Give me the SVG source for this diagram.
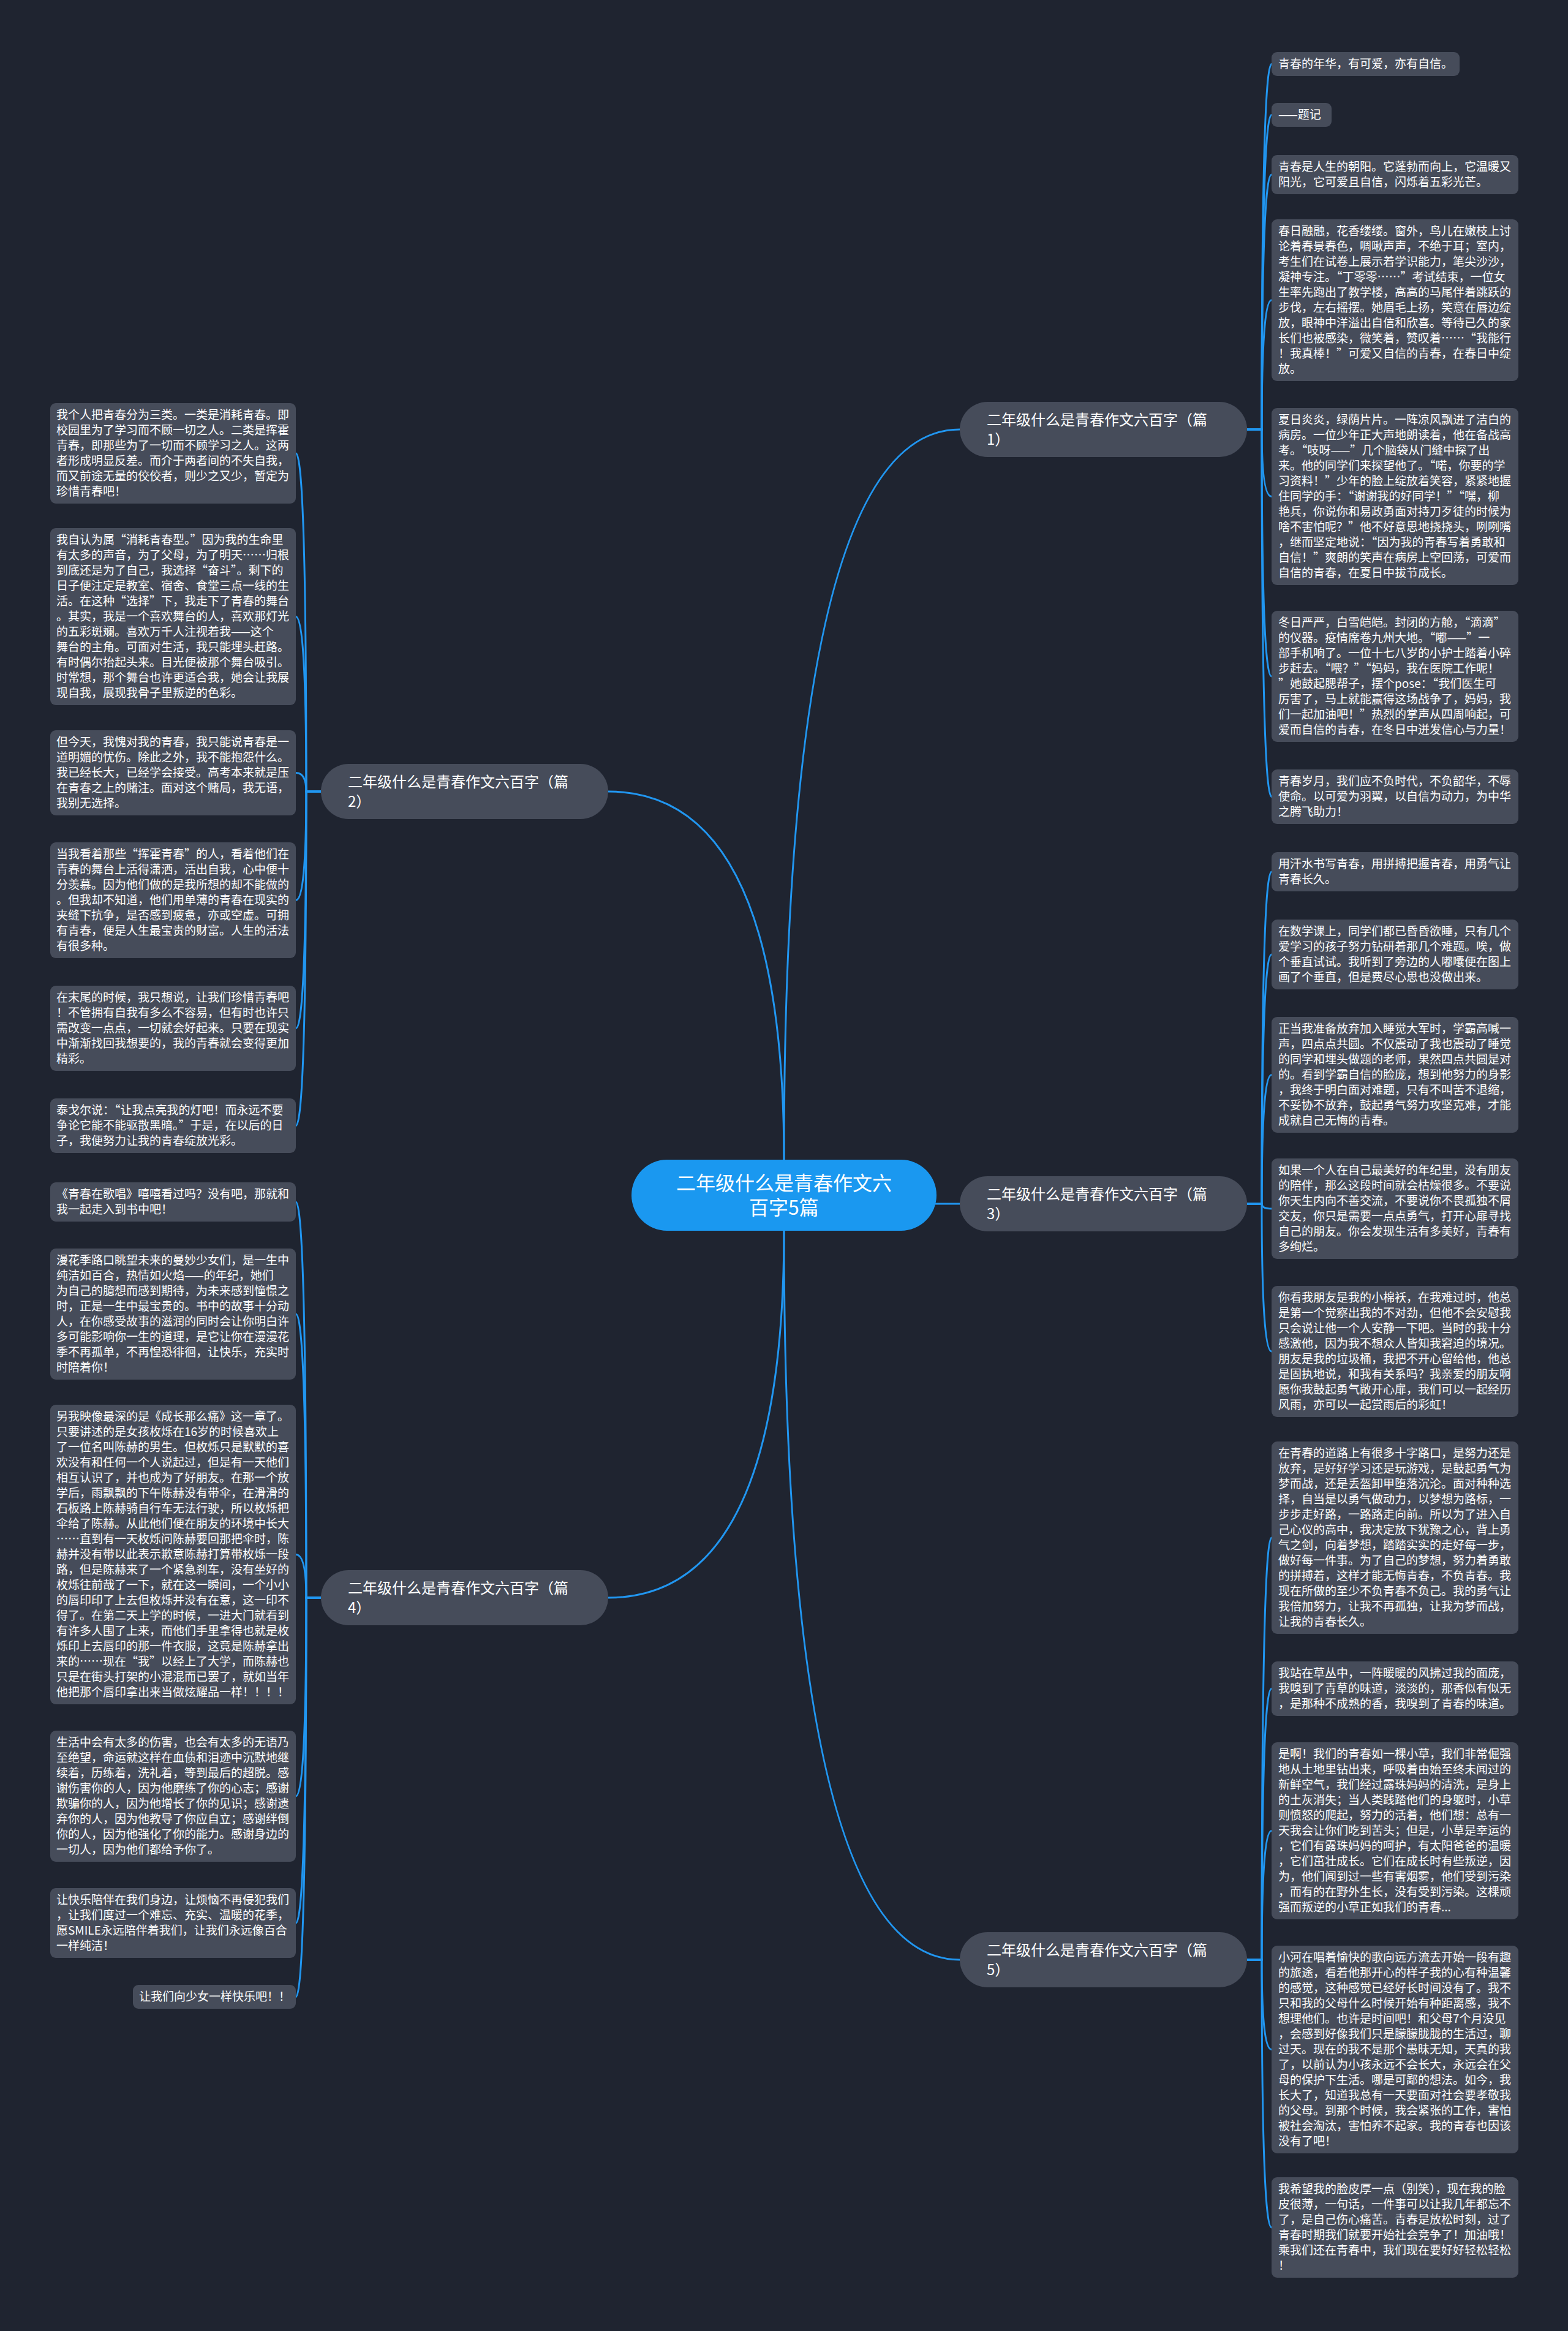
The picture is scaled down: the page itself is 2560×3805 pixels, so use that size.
<svg xmlns="http://www.w3.org/2000/svg" width="2560" height="3805" viewBox="0 0 2560 3805">
<style>
.lf{fill:#464c5a}
.br{fill:#464c5a}
.ce{fill:#1a98f0}
.lt{font-family:"Noto Sans CJK SC","Noto Sans",sans-serif;font-size:19px;fill:#ffffff}
.bt{font-family:"Noto Sans CJK SC","Noto Sans",sans-serif;font-size:24px;fill:#ffffff}
.ct{font-family:"Noto Sans CJK SC","Noto Sans",sans-serif;font-size:32px;fill:#ffffff;text-anchor:middle}
.cn{fill:none;stroke:#2196f0;stroke-width:3}
</style>
<rect width="2560" height="3805" fill="#1f2430"/>
<g id="connectors" class="cn">
<path d="M1280 1893 Q1280 701 1567 701"/>
<path d="M1280 1893 Q1280 1292 993 1292"/>
<path d="M1527 1965 L1567 1965"/>
<path d="M1280 2009 Q1280 2608 993 2608"/>
<path d="M1280 2009 Q1280 3199 1567 3199"/>
<path d="M2036 701 L2060 701 Q2060 104.5 2076 104.5"/>
<path d="M2036 701 L2060 701 Q2060 187.5 2076 187.5"/>
<path d="M2036 701 L2060 701 Q2060 285 2076 285"/>
<path d="M2036 701 L2060 701 Q2060 490 2076 490"/>
<path d="M2036 701 L2060 701 Q2060 810.5 2076 810.5"/>
<path d="M2036 701 L2060 701 Q2060 1104 2076 1104"/>
<path d="M2036 701 L2060 701 Q2060 1300.5 2076 1300.5"/>
<path d="M2036 1965 L2060 1965 Q2060 1423 2076 1423"/>
<path d="M2036 1965 L2060 1965 Q2060 1558 2076 1558"/>
<path d="M2036 1965 L2060 1965 Q2060 1754.5 2076 1754.5"/>
<path d="M2036 1965 L2060 1965 Q2060 1973 2076 1973"/>
<path d="M2036 1965 L2060 1965 Q2060 2206 2076 2206"/>
<path d="M2036 3199 L2060 3199 Q2060 2510 2076 2510"/>
<path d="M2036 3199 L2060 3199 Q2060 2756.5 2076 2756.5"/>
<path d="M2036 3199 L2060 3199 Q2060 2988.5 2076 2988.5"/>
<path d="M2036 3199 L2060 3199 Q2060 3345.5 2076 3345.5"/>
<path d="M2036 3199 L2060 3199 Q2060 3636 2076 3636"/>
<path d="M524 1292 L500 1292 Q500 740 483 740"/>
<path d="M524 1292 L500 1292 Q500 1006.5 483 1006.5"/>
<path d="M524 1292 L500 1292 Q500 1261.5 483 1261.5"/>
<path d="M524 1292 L500 1292 Q500 1469.5 483 1469.5"/>
<path d="M524 1292 L500 1292 Q500 1678.5 483 1678.5"/>
<path d="M524 1292 L500 1292 Q500 1837.5 483 1837.5"/>
<path d="M524 2608 L500 2608 Q500 1962 483 1962"/>
<path d="M524 2608 L500 2608 Q500 2145 483 2145"/>
<path d="M524 2608 L500 2608 Q500 2537.5 483 2537.5"/>
<path d="M524 2608 L500 2608 Q500 2932 483 2932"/>
<path d="M524 2608 L500 2608 Q500 3139 483 3139"/>
<path d="M524 2608 L500 2608 Q500 3259.5 483 3259.5"/>
</g>
<g id="center">
<rect class="ce" x="1031" y="1893" width="498" height="116" rx="58"/>
<text class="ct" x="1280" y="1943">二年级什么是青春作文六</text>
<text class="ct" x="1280" y="1983">百字5篇</text>
</g>
<g id="b1">
<rect class="br" x="1567" y="656" width="469" height="90" rx="45"/>
<text class="bt" x="1611" y="694">二年级什么是青春作文六百字（篇</text>
<text class="bt" x="1611" y="726">1）</text>
</g>
<g id="b2">
<rect class="br" x="524" y="1247" width="469" height="90" rx="45"/>
<text class="bt" x="568" y="1285">二年级什么是青春作文六百字（篇</text>
<text class="bt" x="568" y="1317">2）</text>
</g>
<g id="b3">
<rect class="br" x="1567" y="1920" width="469" height="90" rx="45"/>
<text class="bt" x="1611" y="1958">二年级什么是青春作文六百字（篇</text>
<text class="bt" x="1611" y="1990">3）</text>
</g>
<g id="b4">
<rect class="br" x="524" y="2563" width="469" height="90" rx="45"/>
<text class="bt" x="568" y="2601">二年级什么是青春作文六百字（篇</text>
<text class="bt" x="568" y="2633">4）</text>
</g>
<g id="b5">
<rect class="br" x="1567" y="3154" width="469" height="90" rx="45"/>
<text class="bt" x="1611" y="3192">二年级什么是青春作文六百字（篇</text>
<text class="bt" x="1611" y="3224">5）</text>
</g>
<g id="r1"><rect class="lf" x="2076" y="85" width="307" height="39" rx="9"/>
<text class="lt" x="2087" y="111">青春的年华，有可爱，亦有自信。</text></g>
<g id="r2"><rect class="lf" x="2076" y="168" width="98" height="39" rx="9"/>
<text class="lt" x="2087" y="194">——题记</text></g>
<g id="r3"><rect class="lf" x="2076" y="253" width="403" height="64" rx="9"/>
<text class="lt" x="2087" y="279">青春是人生的朝阳。它蓬勃而向上，它温暖又</text>
<text class="lt" x="2087" y="304">阳光，它可爱且自信，闪烁着五彩光芒。</text></g>
<g id="r4"><rect class="lf" x="2076" y="358" width="403" height="264" rx="9"/>
<text class="lt" x="2087" y="384">春日融融，花香缕缕。窗外，鸟儿在嫩枝上讨</text>
<text class="lt" x="2087" y="409">论着春景春色，啁啾声声，不绝于耳；室内，</text>
<text class="lt" x="2087" y="434">考生们在试卷上展示着学识能力，笔尖沙沙，</text>
<text class="lt" x="2087" y="459">凝神专注。“丁零零……”考试结束，一位女</text>
<text class="lt" x="2087" y="484">生率先跑出了教学楼，高高的马尾伴着跳跃的</text>
<text class="lt" x="2087" y="509">步伐，左右摇摆。她眉毛上扬，笑意在唇边绽</text>
<text class="lt" x="2087" y="534">放，眼神中洋溢出自信和欣喜。等待已久的家</text>
<text class="lt" x="2087" y="559">长们也被感染，微笑着，赞叹着……“我能行</text>
<text class="lt" x="2087" y="584">！我真棒！”可爱又自信的青春，在春日中绽</text>
<text class="lt" x="2087" y="609">放。</text></g>
<g id="r5"><rect class="lf" x="2076" y="666" width="403" height="289" rx="9"/>
<text class="lt" x="2087" y="692">夏日炎炎，绿荫片片。一阵凉风飘进了洁白的</text>
<text class="lt" x="2087" y="717">病房。一位少年正大声地朗读着，他在备战高</text>
<text class="lt" x="2087" y="742">考。“吱呀——”几个脑袋从门缝中探了出</text>
<text class="lt" x="2087" y="767">来。他的同学们来探望他了。“喏，你要的学</text>
<text class="lt" x="2087" y="792">习资料！”少年的脸上绽放着笑容，紧紧地握</text>
<text class="lt" x="2087" y="817">住同学的手：“谢谢我的好同学！”“嘿，柳</text>
<text class="lt" x="2087" y="842">艳兵，你说你和易政勇面对持刀歹徒的时候为</text>
<text class="lt" x="2087" y="867">啥不害怕呢？”他不好意思地挠挠头，咧咧嘴</text>
<text class="lt" x="2087" y="892">，继而坚定地说：“因为我的青春写着勇敢和</text>
<text class="lt" x="2087" y="917">自信！”爽朗的笑声在病房上空回荡，可爱而</text>
<text class="lt" x="2087" y="942">自信的青春，在夏日中拔节成长。</text></g>
<g id="r6"><rect class="lf" x="2076" y="997" width="403" height="214" rx="9"/>
<text class="lt" x="2087" y="1023">冬日严严，白雪皑皑。封闭的方舱，“滴滴”</text>
<text class="lt" x="2087" y="1048">的仪器。疫情席卷九州大地。“嘟——”一</text>
<text class="lt" x="2087" y="1073">部手机响了。一位十七八岁的小护士踏着小碎</text>
<text class="lt" x="2087" y="1098">步赶去。“喂？”“妈妈，我在医院工作呢！</text>
<text class="lt" x="2087" y="1123">”她鼓起腮帮子，摆个pose：“我们医生可</text>
<text class="lt" x="2087" y="1148">厉害了，马上就能赢得这场战争了，妈妈，我</text>
<text class="lt" x="2087" y="1173">们一起加油吧！”热烈的掌声从四周响起，可</text>
<text class="lt" x="2087" y="1198">爱而自信的青春，在冬日中迸发信心与力量！</text></g>
<g id="r7"><rect class="lf" x="2076" y="1256" width="403" height="89" rx="9"/>
<text class="lt" x="2087" y="1282">青春岁月，我们应不负时代，不负韶华，不辱</text>
<text class="lt" x="2087" y="1307">使命。以可爱为羽翼，以自信为动力，为中华</text>
<text class="lt" x="2087" y="1332">之腾飞助力！</text></g>
<g id="r8"><rect class="lf" x="2076" y="1391" width="403" height="64" rx="9"/>
<text class="lt" x="2087" y="1417">用汗水书写青春，用拼搏把握青春，用勇气让</text>
<text class="lt" x="2087" y="1442">青春长久。</text></g>
<g id="r9"><rect class="lf" x="2076" y="1501" width="403" height="114" rx="9"/>
<text class="lt" x="2087" y="1527">在数学课上，同学们都已昏昏欲睡，只有几个</text>
<text class="lt" x="2087" y="1552">爱学习的孩子努力钻研着那几个难题。唉，做</text>
<text class="lt" x="2087" y="1577">个垂直试试。我听到了旁边的人嘟囔便在图上</text>
<text class="lt" x="2087" y="1602">画了个垂直，但是费尽心思也没做出来。</text></g>
<g id="r10"><rect class="lf" x="2076" y="1660" width="403" height="189" rx="9"/>
<text class="lt" x="2087" y="1686">正当我准备放弃加入睡觉大军时，学霸高喊一</text>
<text class="lt" x="2087" y="1711">声，四点点共圆。不仅震动了我也震动了睡觉</text>
<text class="lt" x="2087" y="1736">的同学和埋头做题的老师，果然四点共圆是对</text>
<text class="lt" x="2087" y="1761">的。看到学霸自信的脸庞，想到他努力的身影</text>
<text class="lt" x="2087" y="1786">，我终于明白面对难题，只有不叫苦不退缩，</text>
<text class="lt" x="2087" y="1811">不妥协不放弃，鼓起勇气努力攻坚克难，才能</text>
<text class="lt" x="2087" y="1836">成就自己无悔的青春。</text></g>
<g id="r11"><rect class="lf" x="2076" y="1891" width="403" height="164" rx="9"/>
<text class="lt" x="2087" y="1917">如果一个人在自己最美好的年纪里，没有朋友</text>
<text class="lt" x="2087" y="1942">的陪伴，那么这段时间就会枯燥很多。不要说</text>
<text class="lt" x="2087" y="1967">你天生内向不善交流，不要说你不畏孤独不屑</text>
<text class="lt" x="2087" y="1992">交友，你只是需要一点点勇气，打开心扉寻找</text>
<text class="lt" x="2087" y="2017">自己的朋友。你会发现生活有多美好，青春有</text>
<text class="lt" x="2087" y="2042">多绚烂。</text></g>
<g id="r12"><rect class="lf" x="2076" y="2099" width="403" height="214" rx="9"/>
<text class="lt" x="2087" y="2125">你看我朋友是我的小棉袄，在我难过时，他总</text>
<text class="lt" x="2087" y="2150">是第一个觉察出我的不对劲，但他不会安慰我</text>
<text class="lt" x="2087" y="2175">只会说让他一个人安静一下吧。当时的我十分</text>
<text class="lt" x="2087" y="2200">感激他，因为我不想众人皆知我窘迫的境况。</text>
<text class="lt" x="2087" y="2225">朋友是我的垃圾桶，我把不开心留给他，他总</text>
<text class="lt" x="2087" y="2250">是固执地说，和我有关系吗？我亲爱的朋友啊</text>
<text class="lt" x="2087" y="2275">愿你我鼓起勇气敞开心扉，我们可以一起经历</text>
<text class="lt" x="2087" y="2300">风雨，亦可以一起赏雨后的彩虹！</text></g>
<g id="r13"><rect class="lf" x="2076" y="2353" width="403" height="314" rx="9"/>
<text class="lt" x="2087" y="2379">在青春的道路上有很多十字路口，是努力还是</text>
<text class="lt" x="2087" y="2404">放弃，是好好学习还是玩游戏，是鼓起勇气为</text>
<text class="lt" x="2087" y="2429">梦而战，还是丢盔卸甲堕落沉沦。面对种种选</text>
<text class="lt" x="2087" y="2454">择，自当是以勇气做动力，以梦想为路标，一</text>
<text class="lt" x="2087" y="2479">步步走好路，一路路走向前。所以为了进入自</text>
<text class="lt" x="2087" y="2504">己心仪的高中，我决定放下犹豫之心，背上勇</text>
<text class="lt" x="2087" y="2529">气之剑，向着梦想，踏踏实实的走好每一步，</text>
<text class="lt" x="2087" y="2554">做好每一件事。为了自己的梦想，努力着勇敢</text>
<text class="lt" x="2087" y="2579">的拼搏着，这样才能无悔青春，不负青春。我</text>
<text class="lt" x="2087" y="2604">现在所做的至少不负青春不负己。我的勇气让</text>
<text class="lt" x="2087" y="2629">我倍加努力，让我不再孤独，让我为梦而战，</text>
<text class="lt" x="2087" y="2654">让我的青春长久。</text></g>
<g id="r14"><rect class="lf" x="2076" y="2712" width="403" height="89" rx="9"/>
<text class="lt" x="2087" y="2738">我站在草丛中，一阵暖暖的风拂过我的面庞，</text>
<text class="lt" x="2087" y="2763">我嗅到了青草的味道，淡淡的，那香似有似无</text>
<text class="lt" x="2087" y="2788">，是那种不成熟的香，我嗅到了青春的味道。</text></g>
<g id="r15"><rect class="lf" x="2076" y="2844" width="403" height="289" rx="9"/>
<text class="lt" x="2087" y="2870">是啊！我们的青春如一棵小草，我们非常倔强</text>
<text class="lt" x="2087" y="2895">地从土地里钻出来，呼吸着由始至终未闻过的</text>
<text class="lt" x="2087" y="2920">新鲜空气，我们经过露珠妈妈的清洗，是身上</text>
<text class="lt" x="2087" y="2945">的土灰消失；当人类践踏他们的身躯时，小草</text>
<text class="lt" x="2087" y="2970">则愤怒的爬起，努力的活着，他们想：总有一</text>
<text class="lt" x="2087" y="2995">天我会让你们吃到苦头；但是，小草是幸运的</text>
<text class="lt" x="2087" y="3020">，它们有露珠妈妈的呵护，有太阳爸爸的温暖</text>
<text class="lt" x="2087" y="3045">，它们茁壮成长。它们在成长时有些叛逆，因</text>
<text class="lt" x="2087" y="3070">为，他们闻到过一些有害烟雾，他们受到污染</text>
<text class="lt" x="2087" y="3095">，而有的在野外生长，没有受到污染。这棵顽</text>
<text class="lt" x="2087" y="3120">强而叛逆的小草正如我们的青春...</text></g>
<g id="r16"><rect class="lf" x="2076" y="3176" width="403" height="339" rx="9"/>
<text class="lt" x="2087" y="3202">小河在唱着愉快的歌向远方流去开始一段有趣</text>
<text class="lt" x="2087" y="3227">的旅途，看着他那开心的样子我的心有种温馨</text>
<text class="lt" x="2087" y="3252">的感觉，这种感觉已经好长时间没有了。我不</text>
<text class="lt" x="2087" y="3277">只和我的父母什么时候开始有种距离感，我不</text>
<text class="lt" x="2087" y="3302">想理他们。也许是时间吧！和父母7个月没见</text>
<text class="lt" x="2087" y="3327">，会感到好像我们只是朦朦胧胧的生活过，聊</text>
<text class="lt" x="2087" y="3352">过天。现在的我不是那个愚昧无知，天真的我</text>
<text class="lt" x="2087" y="3377">了，以前认为小孩永远不会长大，永远会在父</text>
<text class="lt" x="2087" y="3402">母的保护下生活。哪是可鄙的想法。如今，我</text>
<text class="lt" x="2087" y="3427">长大了，知道我总有一天要面对社会要孝敬我</text>
<text class="lt" x="2087" y="3452">的父母。到那个时候，我会紧张的工作，害怕</text>
<text class="lt" x="2087" y="3477">被社会淘汰，害怕养不起家。我的青春也因该</text>
<text class="lt" x="2087" y="3502">没有了吧！</text></g>
<g id="r17"><rect class="lf" x="2076" y="3554" width="403" height="164" rx="9"/>
<text class="lt" x="2087" y="3580">我希望我的脸皮厚一点（别笑），现在我的脸</text>
<text class="lt" x="2087" y="3605">皮很薄，一句话，一件事可以让我几年都忘不</text>
<text class="lt" x="2087" y="3630">了，是自己伤心痛苦。青春是放松时刻，过了</text>
<text class="lt" x="2087" y="3655">青春时期我们就要开始社会竞争了！加油哦！</text>
<text class="lt" x="2087" y="3680">乘我们还在青春中，我们现在要好好轻松轻松</text>
<text class="lt" x="2087" y="3705">！</text></g>
<g id="l1"><rect class="lf" x="82" y="658" width="401" height="164" rx="9"/>
<text class="lt" x="92" y="684">我个人把青春分为三类。一类是消耗青春。即</text>
<text class="lt" x="92" y="709">校园里为了学习而不顾一切之人。二类是挥霍</text>
<text class="lt" x="92" y="734">青春，即那些为了一切而不顾学习之人。这两</text>
<text class="lt" x="92" y="759">者形成明显反差。而介于两者间的不失自我，</text>
<text class="lt" x="92" y="784">而又前途无量的佼佼者，则少之又少，暂定为</text>
<text class="lt" x="92" y="809">珍惜青春吧！</text></g>
<g id="l2"><rect class="lf" x="82" y="862" width="401" height="289" rx="9"/>
<text class="lt" x="92" y="888">我自认为属“消耗青春型。”因为我的生命里</text>
<text class="lt" x="92" y="913">有太多的声音，为了父母，为了明天……归根</text>
<text class="lt" x="92" y="938">到底还是为了自己，我选择“奋斗”。剩下的</text>
<text class="lt" x="92" y="963">日子便注定是教室、宿舍、食堂三点一线的生</text>
<text class="lt" x="92" y="988">活。在这种“选择”下，我走下了青春的舞台</text>
<text class="lt" x="92" y="1013">。其实，我是一个喜欢舞台的人，喜欢那灯光</text>
<text class="lt" x="92" y="1038">的五彩斑斓。喜欢万千人注视着我——这个</text>
<text class="lt" x="92" y="1063">舞台的主角。可面对生活，我只能埋头赶路。</text>
<text class="lt" x="92" y="1088">有时偶尔抬起头来。目光便被那个舞台吸引。</text>
<text class="lt" x="92" y="1113">时常想，那个舞台也许更适合我，她会让我展</text>
<text class="lt" x="92" y="1138">现自我，展现我骨子里叛逆的色彩。</text></g>
<g id="l3"><rect class="lf" x="82" y="1192" width="401" height="139" rx="9"/>
<text class="lt" x="92" y="1218">但今天，我愧对我的青春，我只能说青春是一</text>
<text class="lt" x="92" y="1243">道明媚的忧伤。除此之外，我不能抱怨什么。</text>
<text class="lt" x="92" y="1268">我已经长大，已经学会接受。高考本来就是压</text>
<text class="lt" x="92" y="1293">在青春之上的赌注。面对这个赌局，我无语，</text>
<text class="lt" x="92" y="1318">我别无选择。</text></g>
<g id="l4"><rect class="lf" x="82" y="1375" width="401" height="189" rx="9"/>
<text class="lt" x="92" y="1401">当我看着那些“挥霍青春”的人，看着他们在</text>
<text class="lt" x="92" y="1426">青春的舞台上活得潇洒，活出自我，心中便十</text>
<text class="lt" x="92" y="1451">分羡慕。因为他们做的是我所想的却不能做的</text>
<text class="lt" x="92" y="1476">。但我却不知道，他们用单薄的青春在现实的</text>
<text class="lt" x="92" y="1501">夹缝下抗争，是否感到疲惫，亦或空虚。可拥</text>
<text class="lt" x="92" y="1526">有青春，便是人生最宝贵的财富。人生的活法</text>
<text class="lt" x="92" y="1551">有很多种。</text></g>
<g id="l5"><rect class="lf" x="82" y="1609" width="401" height="139" rx="9"/>
<text class="lt" x="92" y="1635">在末尾的时候，我只想说，让我们珍惜青春吧</text>
<text class="lt" x="92" y="1660">！不管拥有自我有多么不容易，但有时也许只</text>
<text class="lt" x="92" y="1685">需改变一点点，一切就会好起来。只要在现实</text>
<text class="lt" x="92" y="1710">中渐渐找回我想要的，我的青春就会变得更加</text>
<text class="lt" x="92" y="1735">精彩。</text></g>
<g id="l6"><rect class="lf" x="82" y="1793" width="401" height="89" rx="9"/>
<text class="lt" x="92" y="1819">泰戈尔说：“让我点亮我的灯吧！而永远不要</text>
<text class="lt" x="92" y="1844">争论它能不能驱散黑暗。”于是，在以后的日</text>
<text class="lt" x="92" y="1869">子，我便努力让我的青春绽放光彩。</text></g>
<g id="l7"><rect class="lf" x="82" y="1930" width="401" height="64" rx="9"/>
<text class="lt" x="92" y="1956">《青春在歌唱》嘻嘻看过吗？没有吧，那就和</text>
<text class="lt" x="92" y="1981">我一起走入到书中吧！</text></g>
<g id="l8"><rect class="lf" x="82" y="2038" width="401" height="214" rx="9"/>
<text class="lt" x="92" y="2064">漫花季路口眺望未来的曼妙少女们，是一生中</text>
<text class="lt" x="92" y="2089">纯洁如百合，热情如火焰——的年纪，她们</text>
<text class="lt" x="92" y="2114">为自己的臆想而感到期待，为未来感到憧憬之</text>
<text class="lt" x="92" y="2139">时，正是一生中最宝贵的。书中的故事十分动</text>
<text class="lt" x="92" y="2164">人，在你感受故事的滋润的同时会让你明白许</text>
<text class="lt" x="92" y="2189">多可能影响你一生的道理，是它让你在漫漫花</text>
<text class="lt" x="92" y="2214">季不再孤单，不再惶恐徘徊，让快乐，充实时</text>
<text class="lt" x="92" y="2239">时陪着你！</text></g>
<g id="l9"><rect class="lf" x="82" y="2293" width="401" height="489" rx="9"/>
<text class="lt" x="92" y="2319">另我映像最深的是《成长那么痛》这一章了。</text>
<text class="lt" x="92" y="2344">只要讲述的是女孩枚烁在16岁的时候喜欢上</text>
<text class="lt" x="92" y="2369">了一位名叫陈赫的男生。但枚烁只是默默的喜</text>
<text class="lt" x="92" y="2394">欢没有和任何一个人说起过，但是有一天他们</text>
<text class="lt" x="92" y="2419">相互认识了，并也成为了好朋友。在那一个放</text>
<text class="lt" x="92" y="2444">学后，雨飘飘的下午陈赫没有带伞，在滑滑的</text>
<text class="lt" x="92" y="2469">石板路上陈赫骑自行车无法行驶，所以枚烁把</text>
<text class="lt" x="92" y="2494">伞给了陈赫。从此他们便在朋友的环境中长大</text>
<text class="lt" x="92" y="2519">……直到有一天枚烁问陈赫要回那把伞时，陈</text>
<text class="lt" x="92" y="2544">赫并没有带以此表示歉意陈赫打算带枚烁一段</text>
<text class="lt" x="92" y="2569">路，但是陈赫来了一个紧急刹车，没有坐好的</text>
<text class="lt" x="92" y="2594">枚烁往前哉了一下，就在这一瞬间，一个小小</text>
<text class="lt" x="92" y="2619">的唇印印了上去但枚烁并没有在意，这一印不</text>
<text class="lt" x="92" y="2644">得了。在第二天上学的时候，一进大门就看到</text>
<text class="lt" x="92" y="2669">有许多人围了上来，而他们手里拿得也就是枚</text>
<text class="lt" x="92" y="2694">烁印上去唇印的那一件衣服，这竟是陈赫拿出</text>
<text class="lt" x="92" y="2719">来的……现在“我”以经上了大学，而陈赫也</text>
<text class="lt" x="92" y="2744">只是在街头打架的小混混而已罢了，就如当年</text>
<text class="lt" x="92" y="2769">他把那个唇印拿出来当做炫耀品一样！！！！</text></g>
<g id="l10"><rect class="lf" x="82" y="2825" width="401" height="214" rx="9"/>
<text class="lt" x="92" y="2851">生活中会有太多的伤害，也会有太多的无语乃</text>
<text class="lt" x="92" y="2876">至绝望，命运就这样在血债和泪迹中沉默地继</text>
<text class="lt" x="92" y="2901">续着，历练着，洗礼着，等到最后的超脱。感</text>
<text class="lt" x="92" y="2926">谢伤害你的人，因为他磨练了你的心志；感谢</text>
<text class="lt" x="92" y="2951">欺骗你的人，因为他增长了你的见识；感谢遗</text>
<text class="lt" x="92" y="2976">弃你的人，因为他教导了你应自立；感谢绊倒</text>
<text class="lt" x="92" y="3001">你的人，因为他强化了你的能力。感谢身边的</text>
<text class="lt" x="92" y="3026">一切人，因为他们都给予你了。</text></g>
<g id="l11"><rect class="lf" x="82" y="3082" width="401" height="114" rx="9"/>
<text class="lt" x="92" y="3108">让快乐陪伴在我们身边，让烦恼不再侵犯我们</text>
<text class="lt" x="92" y="3133">，让我们度过一个难忘、充实、温暖的花季，</text>
<text class="lt" x="92" y="3158">愿SMILE永远陪伴着我们，让我们永远像百合</text>
<text class="lt" x="92" y="3183">一样纯洁！</text></g>
<g id="l12"><rect class="lf" x="217" y="3240" width="266" height="39" rx="9"/>
<text class="lt" x="227" y="3266">让我们向少女一样快乐吧！！</text></g>
</svg>
